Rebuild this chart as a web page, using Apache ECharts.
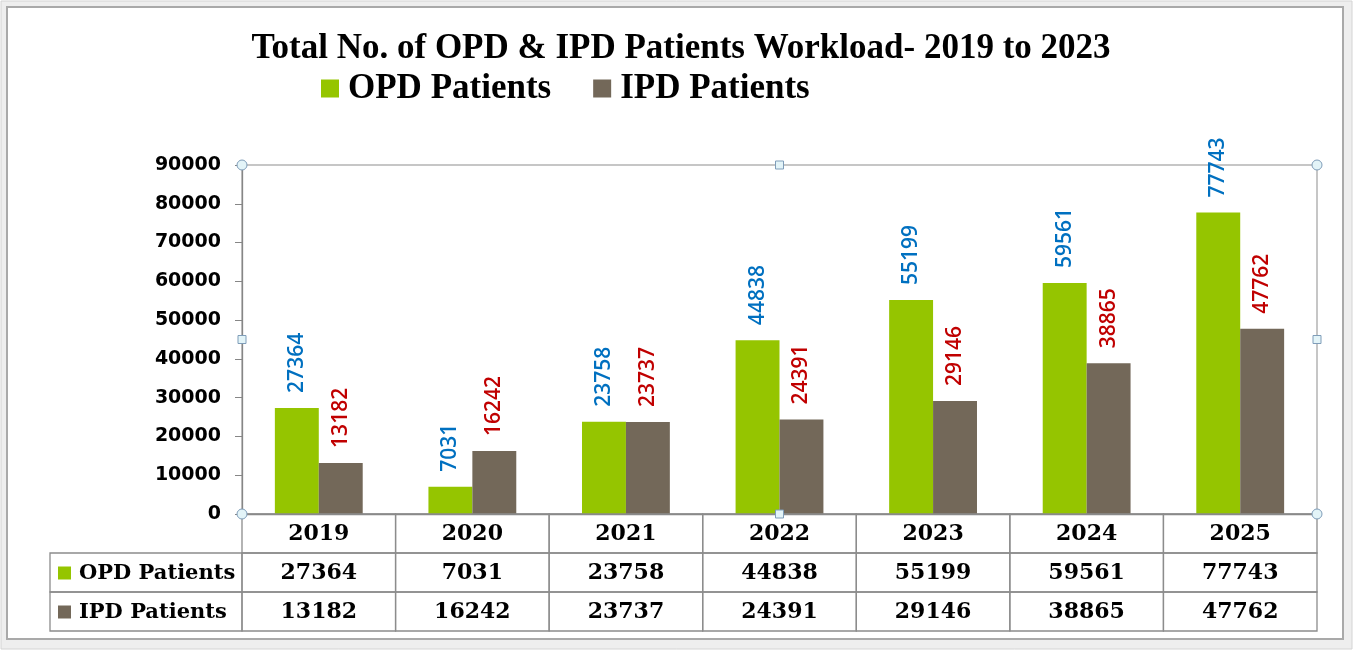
<!DOCTYPE html>
<html>
<head>
<meta charset="utf-8">
<script src="https://cdn.jsdelivr.net/npm/echarts@6/dist/echarts.min.js"></script>
<style>html,body{margin:0;padding:0;background:#fff;}#c{width:1355px;height:659px;}</style>
</head>
<body>
<div id="c"></div>
<script>
const years = ['2019', '2020', '2021', '2022', '2023', '2024', '2025'];
const opd = [27364, 7031, 23758, 44838, 55199, 59561, 77743];
const ipd = [13182, 16242, 23737, 24391, 29146, 38865, 47762];
const seriesNames = ['OPD Patients', 'IPD Patients'];
const titleText = 'Total No. of OPD & IPD Patients Workload- 2019 to 2023';

const GREEN = '#95C500', GREY = '#736859';
const colors = [GREEN, GREY];

// table cells: [col, row, text, kind]
const tableData = [];
years.forEach((y, i) => tableData.push([i, 0, y, 'cell']));
tableData.push([-1, 1, seriesNames[0], 'head']);
opd.forEach((v, i) => tableData.push([i, 1, String(v), 'cell']));
tableData.push([-1, 2, seriesNames[1], 'head']);
ipd.forEach((v, i) => tableData.push([i, 2, String(v), 'cell']));

const GL = 242, GT = 165, GR = 38, GB = 145;
const TABLE_LEFT = 50;
const chart = echarts.init(document.getElementById('c'));

function renderCell(params, api) {
  const col = api.value(0), row = api.value(1);
  const item = tableData[params.dataIndex];
  const text = item[2], kind = item[3];
  const cs = params.coordSys;
  const colW = api.size([1, 0])[0];
  const rowH = api.size([0, 1])[1];
  const cy = api.coord([0, row])[1];
  const lineStyle = { fill: null, stroke: '#8c8c8c', lineWidth: 1.3 };
  if (kind === 'cell') {
    const cx = api.coord([col, row])[0];
    return {
      type: 'group',
      children: [
        { type: 'rect', shape: { x: cx - colW / 2, y: cy - rowH / 2, width: colW, height: rowH }, style: lineStyle },
        { type: 'text', style: { x: cx, y: cy + 1, text: text, font: 'bold 22px "DejaVu Serif"', fill: '#000', align: 'center', verticalAlign: 'middle' } }
      ]
    };
  } else {
    const x0 = TABLE_LEFT, x1 = cs.x;
    return {
      type: 'group',
      children: [
        { type: 'rect', shape: { x: x0, y: cy - rowH / 2, width: x1 - x0, height: rowH }, style: lineStyle },
        { type: 'rect', shape: { x: x0 + 8, y: cy - 6, width: 13, height: 13 }, style: { fill: colors[row - 1] } },
        { type: 'text', style: { x: x0 + 29, y: cy + 1, text: text, font: 'bold 21px "DejaVu Serif"', fill: '#000', align: 'left', verticalAlign: 'middle' } }
      ]
    };
  }
}

function handle(x, y, round) {
  if (round) return { type: 'circle', shape: { cx: x, cy: y, r: 5 }, style: { fill: '#e3f4f8', stroke: '#7f9db9', lineWidth: 1 }, z: 100 };
  return { type: 'rect', shape: { x: x - 4, y: y - 4, width: 8, height: 8 }, style: { fill: '#e3f4f8', stroke: '#7f9db9', lineWidth: 1 }, z: 100 };
}
const W = 1355, H = 659;
const pr = W - GR, pb = H - GB, pmx = (GL + pr) / 2, pmy = (GT + pb) / 2;

const labelCommon = {
  show: true, position: 'top', rotate: 90, distance: 15, align: 'left', verticalAlign: 'middle',
  fontFamily: 'Open Sans', fontSize: 21, fontWeight: 600
};

chart.setOption({
  animation: false,
  backgroundColor: 'transparent',
  graphic: [
    { type: 'rect', shape: { x: 1, y: 1, width: 1351, height: 648 }, style: { fill: '#eeeeee', stroke: '#d4d4d4', lineWidth: 1 }, z: -10 },
    { type: 'rect', shape: { x: 7, y: 7, width: 1336, height: 632 }, style: { fill: '#ffffff', stroke: '#a9a9a9', lineWidth: 2 }, z: -9 },
    handle(GL, GT, true), handle(pr, GT, true), handle(GL, pb, true), handle(pr, pb, true),
    handle(pmx, GT, false), handle(pmx, pb, false), handle(GL, pmy, false), handle(pr, pmy, false)
  ],
  title: {
    text: titleText, left: 676, textAlign: 'center', top: 26,
    textStyle: { fontFamily: 'Liberation Serif', fontWeight: 'bold', fontSize: 35, color: '#000' }
  },
  legend: {
    data: seriesNames, left: 316, top: 66, itemWidth: 18, itemHeight: 18, itemGap: 42,
    icon: 'rect',
    textStyle: { fontFamily: 'Liberation Serif', fontWeight: 'bold', fontSize: 35, color: '#000', padding: [0, 0, 0, 4] }
  },
  grid: [
    { left: GL, right: GR, top: GT, bottom: GB, show: true, borderColor: '#b4b4b4', borderWidth: 1.5, backgroundColor: 'transparent' },
    { left: GL, right: GR, top: H - GB, height: 117 }
  ],
  xAxis: [
    { type: 'category', data: years, gridIndex: 0, axisLabel: { show: false }, axisTick: { show: false },
      axisLine: { lineStyle: { color: '#868686', width: 1.3 } } },
    { type: 'category', data: years, gridIndex: 1, show: false }
  ],
  yAxis: [
    { type: 'value', gridIndex: 0, min: 0, max: 90000, interval: 10000,
      axisLine: { show: true, lineStyle: { color: '#868686', width: 1.3 } },
      axisTick: { show: true, length: 7, lineStyle: { color: '#868686' } },
      splitLine: { show: false },
      axisLabel: { margin: 21, fontFamily: 'DejaVu Sans', fontWeight: 'bold', fontSize: 19, color: '#000',
        formatter: v => String(v) } },
    { type: 'category', data: ['year', 'opd', 'ipd'], gridIndex: 1, inverse: true, show: false }
  ],
  series: [
    { name: seriesNames[0], type: 'bar', data: opd, xAxisIndex: 0, yAxisIndex: 0,
      barWidth: '28.6%', barGap: '0%', itemStyle: { color: GREEN },
      label: Object.assign({ color: '#0070C0' }, labelCommon) },
    { name: seriesNames[1], type: 'bar', data: ipd, xAxisIndex: 0, yAxisIndex: 0,
      barWidth: '28.6%', barGap: '0%', itemStyle: { color: GREY },
      label: Object.assign({ color: '#C00000' }, labelCommon) },
    { type: 'custom', xAxisIndex: 1, yAxisIndex: 1, renderItem: renderCell, clip: false,
      data: tableData.map(d => [d[0], d[1]]), silent: true, z: 5 }
  ]
});
</script>
</body>
</html>
